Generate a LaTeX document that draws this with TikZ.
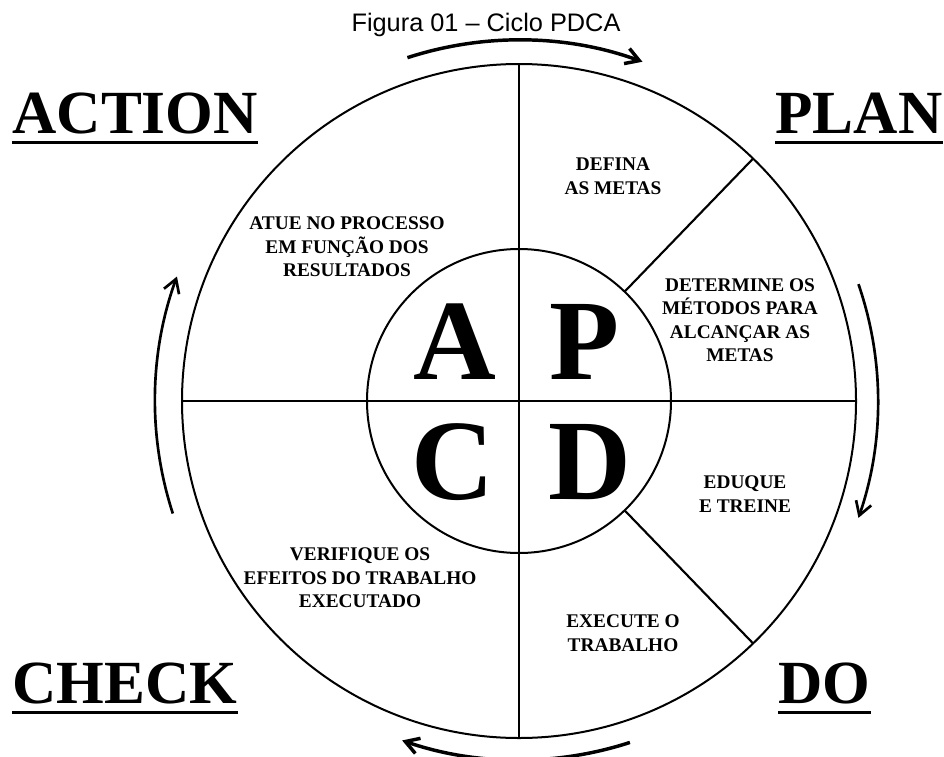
\documentclass[tikz,border=0pt]{standalone}
\usepackage{fontspec}
\setmainfont{Liberation Serif}
\newfontfamily\titlefont{Liberation Sans}
\usetikzlibrary{arrows.meta,calc}

\tikzset{every picture/.style={line width=0.75pt}}
\tikzset{
	ring/.style={circle, draw, line width=1.5pt, inner sep=0pt, outer sep=0pt},
	divider/.style={line width=1.6pt},
	cycle arrow/.style={line width=2pt, -{Straight Barb[length=10pt,width=12pt]}},
	bold arrow/.style={cycle arrow, line width=2.6pt},
	stage/.style={font=\fontsize{46}{46}\selectfont\bfseries, inner xsep=0pt, inner ysep=6.5pt, anchor=base west},
	underbar/.style={line width=2.4pt},
	letter/.style={font=\fontsize{86}{86}\selectfont\bfseries, inner sep=0pt},
	task/.style={font=\fontsize{14.5}{17.6}\selectfont\bfseries, align=center, inner sep=0pt},
}

\begin{document}
\begin{tikzpicture}[x=0.75pt,y=0.75pt,yscale=-1,xscale=1]
	\useasboundingbox (0,0) rectangle (944,756);
	\clip (0,0) rectangle (944,756);

	\node[anchor=base, inner sep=0pt, font=\titlefont\fontsize{19}{19}\selectfont] (title) at (486,32) {Figura 01 – Ciclo PDCA};

	\coordinate (c) at (519,401);
	\node[ring, minimum size=505.5pt] (outer) at (c) {};
	\node[ring, minimum size=228pt] (inner) at (c) {};

	\draw[divider] (outer.north) -- (outer.south);
	\draw[divider] (outer.west) -- (outer.east);
	\draw[divider] (inner.46) -- (outer.46);
	\draw[divider] (inner.-46) -- (outer.-46);

	\draw[bold arrow] ($(c)+(-108:361)$) arc[start angle=-108, end angle=-70, radius=361];
	\draw[cycle arrow] ($(c)+(-19:359)$) arc[start angle=-19, end angle=19, radius=359];
	\draw[bold arrow] ($(c)+(72:359)$) arc[start angle=72, end angle=109, radius=359];
	\draw[cycle arrow] ($(c)+(162:364)$) arc[start angle=162, end angle=200, radius=364];

	\node[letter, anchor=base east] (a) at (497,379) {A};
	\node[letter, anchor=base west] (p) at (549,379) {P};
	\node[letter, anchor=base east] (ck) at (495,499) {C};
	\node[letter, anchor=base west] (d) at (548,499) {D};

	\node[stage] (action) at (12,133) {ACTION};
	\draw[underbar] (action.south west) -- (action.south east);
	\node[stage] (plan) at (775,133) {PLAN};
	\draw[underbar] (plan.south west) -- (plan.south east);
	\node[stage] (check) at (12,703) {CHECK};
	\draw[underbar] (check.south west) -- (check.south east);
	\node[stage] (do) at (778,703) {DO};
	\draw[underbar] (do.south west) -- (do.south east);

	\node[task] (define) at (613,176) {DEFINA\\AS METAS};
	\node[task] (methods) at (740,320) {DETERMINE OS\\MÉTODOS PARA\\ALCANÇAR AS\\METAS};
	\node[task] (train) at (745,494) {EDUQUE\\E TREINE};
	\node[task] (execute) at (623,633) {EXECUTE O\\TRABALHO};
	\node[task] (verify) at (360,578) {VERIFIQUE OS\\EFEITOS DO TRABALHO\\EXECUTADO};
	\node[task] (act) at (347,247) {ATUE NO PROCESSO\\EM FUNÇÃO DOS\\RESULTADOS};

\end{tikzpicture}
\end{document}
